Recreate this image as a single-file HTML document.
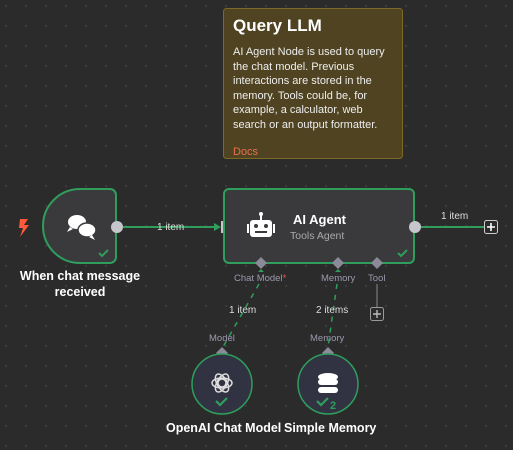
<!DOCTYPE html>
<html><head><style>
body{margin:0;width:513px;height:450px;overflow:hidden;background:#2b2b2b;font-family:"Liberation Sans",sans-serif;}
svg{position:absolute;left:0;top:0}
.t{position:absolute;color:#fff;white-space:nowrap}
</style></head><body>
<svg width="513" height="450">
<defs><pattern id="d" width="20" height="20" patternUnits="userSpaceOnUse"><circle cx="6" cy="6" r="0.7" fill="#555"/></pattern></defs>
<rect width="513" height="450" fill="url(#d)"/>
<rect x="223.5" y="8.5" width="179" height="150" rx="3" fill="#4f4322" stroke="#7d6a25"/>
<path d="M80,189 H110 a6,6 0 0 1 6,6 V257 a6,6 0 0 1 -6,6 H80 a37,37 0 0 1 -37,-37 a37,37 0 0 1 37,-37 Z" fill="#3a3a3c" stroke="#2f9e5d" stroke-width="2"/>
<path d="M20,219 l8,0 -4,6 5,0 -9,12 3,-9 -4,0 z" fill="#ff5a3a"/>
<circle cx="117" cy="227" r="6" fill="#c6c6cd"/>
<line x1="123" y1="227" x2="216" y2="227" stroke="#2f9e5d" stroke-width="2"/>
<path d="M214,223 l7,4 -7,4z" fill="#2f9e5d"/>
<rect x="221" y="221" width="6" height="12" fill="#c6c6cd"/>
<rect x="224" y="189" width="190" height="74" rx="5" fill="#3a3a3c" stroke="#2f9e5d" stroke-width="2"/>
<circle cx="415" cy="227" r="6" fill="#c6c6cd"/>
<line x1="421" y1="227" x2="484" y2="227" stroke="#2f9e5d" stroke-width="2"/>
<rect x="484.5" y="220.5" width="13" height="13" rx="2" fill="#2b2b2b" stroke="#ccc"/>
<path d="M491,223v8M487,227h8" stroke="#fff" stroke-width="1.6"/>
<rect x="250" y="220" width="22" height="17" rx="3" fill="#fff"/>
<rect x="247" y="224" width="2" height="9" fill="#fff"/><rect x="273" y="224" width="2" height="9" fill="#fff"/>
<rect x="260" y="215" width="2" height="5" fill="#fff"/><circle cx="261" cy="214" r="2" fill="#fff"/>
<circle cx="256" cy="226" r="2" fill="#3a3a3c"/><circle cx="266" cy="226" r="2" fill="#3a3a3c"/>
<rect x="255" y="231" width="12" height="2" fill="#3a3a3c"/>
<path d="M99,253 l3,3 6,-6" stroke="#2f9e5d" stroke-width="2" fill="none"/>
<path d="M398,253 l3,3 6,-6" stroke="#2f9e5d" stroke-width="2" fill="none"/>
<ellipse cx="77" cy="222" rx="9" ry="7" fill="#fff"/><path d="M70,227 l-3,5 6,-3z" fill="#fff"/>
<ellipse cx="87" cy="230" rx="9" ry="7" fill="#fff" stroke="#3a3a3c" stroke-width="1.5"/><path d="M92,235 l3,5 -6,-3z" fill="#fff"/>
<g fill="#8a8a99"><path d="M261,257l6,6-6,6-6-6z"/><path d="M338,257l6,6-6,6-6-6z"/><path d="M377,257l6,6-6,6-6-6z"/>
<path d="M222,347l6,6-6,6-6-6z"/><path d="M328,347l6,6-6,6-6-6z"/></g>
<path d="M258,272h6l-3,-3z M335,272h6l-3,-3z" fill="#2f9e5d"/>
<line x1="377" y1="284" x2="377" y2="307" stroke="#888"/>
<rect x="370.5" y="307.5" width="13" height="13" rx="2" fill="#2b2b2b" stroke="#999"/>
<path d="M377,310v8M373,314h8" stroke="#bbb" stroke-width="1.4"/>
<line x1="259" y1="284" x2="223" y2="347" stroke="#2f9e5d" stroke-width="1.5" stroke-dasharray="5,6"/>
<line x1="337" y1="284" x2="328" y2="347" stroke="#2f9e5d" stroke-width="1.5" stroke-dasharray="5,6"/>
<circle cx="222" cy="384" r="30" fill="#313342" stroke="#2f9e5d" stroke-width="1.5"/>
<circle cx="328" cy="384" r="30" fill="#313342" stroke="#2f9e5d" stroke-width="1.5"/>
<g stroke="#ddd" stroke-width="1.5" fill="none"><circle cx="222" cy="383" r="4"/><ellipse cx="222" cy="383" rx="10" ry="5"/><ellipse cx="222" cy="383" rx="10" ry="5" transform="rotate(60 222 383)"/><ellipse cx="222" cy="383" rx="10" ry="5" transform="rotate(-60 222 383)"/></g>
<g fill="#fff"><ellipse cx="328" cy="377" rx="10" ry="4"/><rect x="318" y="379" width="20" height="6" rx="3"/><rect x="318" y="387" width="20" height="6" rx="3"/></g>
<path d="M216,401 l4,4 7,-7" stroke="#2f9e5d" stroke-width="2.2" fill="none"/>
<path d="M317,401 l4,4 7,-7" stroke="#2f9e5d" stroke-width="2.2" fill="none"/>
<text x="330" y="409" fill="#2f9e5d" font-size="11" font-weight="bold" font-family="Liberation Sans">2</text>
</svg>
<div class="t" style="left:233px;top:16px;font-size:17px;font-weight:bold">Query LLM</div>
<div class="t" style="left:233px;top:45px;font-size:11px;line-height:14.6px;color:#eee">AI Agent Node is used to query<br>the chat model. Previous<br>interactions are stored in the<br>memory. Tools could be, for<br>example, a calculator, web<br>search or an output formatter.</div>
<div class="t" style="left:233px;top:146px;font-size:11px;color:#e8704f">Docs</div>
<div class="t" style="left:15px;top:268px;width:130px;text-align:center;font-size:12.5px;font-weight:bold;line-height:16px;white-space:normal">When chat message received</div>
<div class="t" style="left:157px;top:222px;font-size:10px;color:#ddd">1 item</div>
<div class="t" style="left:293px;top:212px;font-size:13px;font-weight:bold">AI Agent</div>
<div class="t" style="left:290px;top:230px;font-size:10.5px;color:#aaa">Tools Agent</div>
<div class="t" style="left:441px;top:211px;font-size:10px;color:#ddd">1 item</div>
<div class="t" style="left:234px;top:273px;font-size:9.5px;color:#9a9ab0">Chat Model<span style="color:#e55">*</span></div>
<div class="t" style="left:321px;top:273px;font-size:9.5px;color:#9a9ab0">Memory</div>
<div class="t" style="left:368px;top:273px;font-size:9.5px;color:#9a9ab0">Tool</div>
<div class="t" style="left:229px;top:305px;font-size:10px;color:#ddd">1 item</div>
<div class="t" style="left:316px;top:305px;font-size:10px;color:#ddd">2 items</div>
<div class="t" style="left:209px;top:333px;font-size:9.5px;color:#9a9ab0">Model</div>
<div class="t" style="left:310px;top:333px;font-size:9.5px;color:#9a9ab0">Memory</div>
<div class="t" style="left:166px;top:421px;font-size:12.5px;font-weight:bold">OpenAI Chat Model</div>
<div class="t" style="left:284px;top:421px;font-size:12.5px;font-weight:bold">Simple Memory</div>
</body></html>
